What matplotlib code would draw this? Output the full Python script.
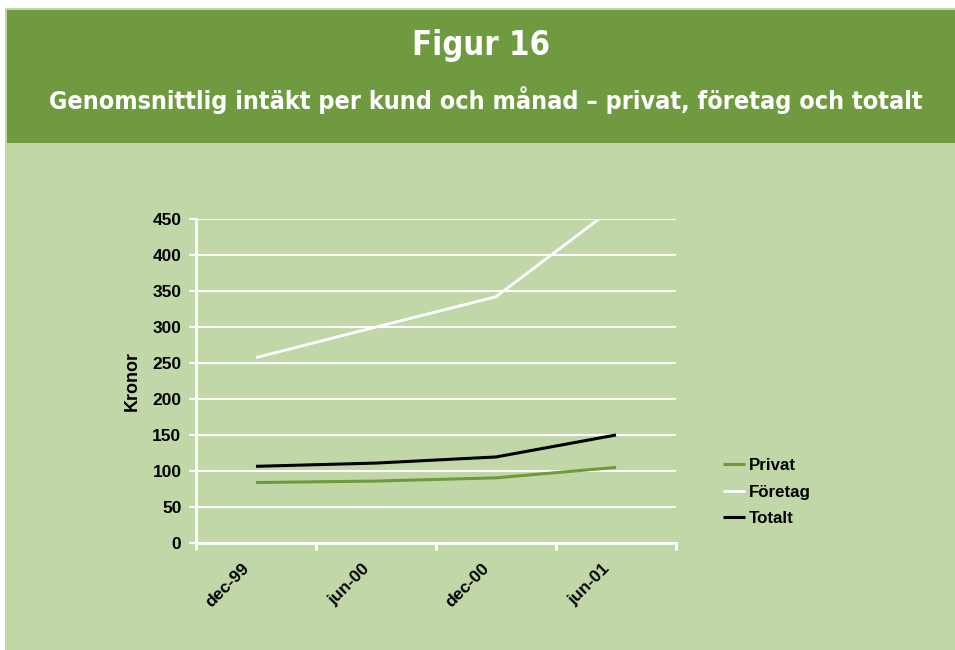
import matplotlib
matplotlib.use("Agg")
import matplotlib.pyplot as plt
from matplotlib.patches import Rectangle
from matplotlib.transforms import ScaledTranslation

# data
categories = ["dec-99", "jun-00", "dec-00", "jun-01"]
privat = [84, 86, 90.5, 105]
foretag = [257.5, 300, 342, 468]
totalt = [106.5, 111, 119.5, 150]

DARK_GREEN = "#6F9A3F"
LIGHT_GREEN = "#C2D7A8"
PRIVAT_GREEN = "#6E9B3C"

plt.rcParams["font.family"] = ["Liberation Sans", "DejaVu Sans"]

fig = plt.figure(figsize=(9.55, 6.5), dpi=100, facecolor="white")

# background panels
fig.patches.append(Rectangle((5 / 955, 0), 1, 1 - 8 / 650, transform=fig.transFigure,
                             facecolor=LIGHT_GREEN, edgecolor="none", zorder=-2))
fig.patches.append(Rectangle((7 / 955, 1 - 143 / 650), 1, 133 / 650, transform=fig.transFigure,
                             facecolor=DARK_GREEN, edgecolor="none", zorder=-1))

title_font = ["DejaVu Sans"]
fig.text(481 / 955, 1 - 46 / 650, "Figur 16", ha="center", va="center",
         fontsize=23.5, fontweight="bold", color="white", family=title_font, fontstretch="condensed")
fig.text(486 / 955, 1 - 100 / 650, "Genomsnittlig intäkt per kund och månad – privat, företag och totalt",
         ha="center", va="center", fontsize=18, fontweight="bold", color="white", family=title_font,
         fontstretch="condensed")

ax = fig.add_axes([196 / 955, 1 - 543 / 650, 480 / 955, 324 / 650])
ax.patch.set_alpha(0)

x = list(range(len(categories)))
ax.plot(x, privat, color=PRIVAT_GREEN, lw=2.2, label="Privat", solid_capstyle="butt")
ax.plot(x, foretag, color="white", lw=2.0, label="Företag", solid_capstyle="butt")
ax.plot(x, totalt, color="black", lw=2.2, label="Totalt", solid_capstyle="butt")

ax.set_xlim(-0.5, len(categories) - 0.5)
ax.set_ylim(0, 450)
ax.set_yticks(range(0, 451, 50))
ax.yaxis.grid(True, color="white", lw=1.5)
ax.set_axisbelow(True)

# category ticks between the labels, like Excel
ax.set_xticks([i - 0.5 for i in range(len(categories) + 1)])
ax.set_xticklabels([])
ax.tick_params(axis="x", which="major", length=5, width=2, color="white")

# rotated category labels, nudged to sit like the reference
lbl_tr = ax.get_xaxis_transform() + ScaledTranslation(-14 / 100, -18 / 100, fig.dpi_scale_trans)
for i, cat in zip(x, categories):
    ax.text(i, 0, cat, transform=lbl_tr, rotation=45, ha="right", va="top",
            rotation_mode="anchor", fontsize=12.5, fontweight="bold", clip_on=False)

ax.tick_params(axis="y", length=5, width=1.5, color="white", labelsize=12.5, pad=5.5)
for lbl in ax.get_yticklabels():
    lbl.set_fontweight("bold")

for side in ["top", "right"]:
    ax.spines[side].set_visible(False)
for side in ["left", "bottom"]:
    ax.spines[side].set_color("white")
    ax.spines[side].set_linewidth(2)

ax.set_ylabel("Kronor", fontsize=13, fontweight="bold", labelpad=8)

ax.legend(loc="center left", bbox_to_anchor=(708 / 955, 1 - 492 / 650), bbox_transform=fig.transFigure,
          frameon=False, handlelength=1.3, handletextpad=0.2, labelspacing=0.7,
          prop={"weight": "bold", "size": 12.2})

fig.savefig("out.png", dpi=100, facecolor=fig.get_facecolor())
